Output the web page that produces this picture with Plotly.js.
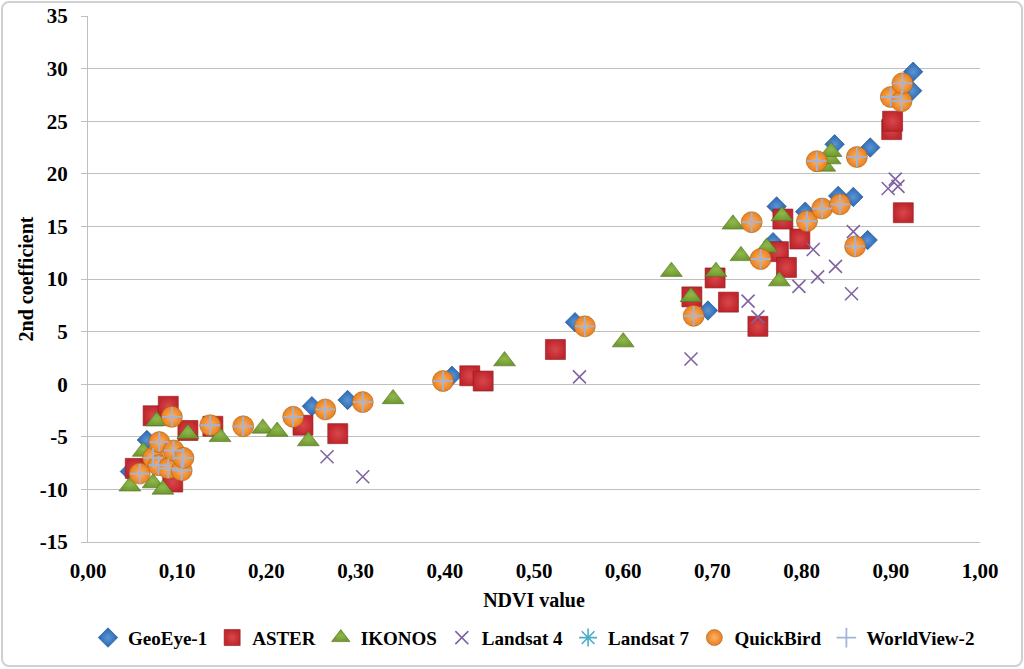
<!DOCTYPE html>
<html>
<head>
<meta charset="utf-8">
<script src="https://cdn.plot.ly/plotly-3.0.1.min.js"></script>
<style>
  body { margin: 0; background: #fff; }
  #container { width: 1024px; height: 669px; }
  #frame {
    position: absolute; left: 1px; top: 1px; width: 1018px; height: 662px;
    border: 2px solid #d0d0d0; border-radius: 8px; pointer-events: none;
  }
</style>
</head>
<body>
<div id="container"></div>
<div id="frame"></div>
<script>
// Values: NDVI value vs 2nd coefficient per sensor
const geoeyeX = [0.047, 0.066, 0.251, 0.291, 0.408, 0.546, 0.695, 0.768, 0.772, 0.804, 0.837, 0.841, 0.858, 0.874, 0.877, 0.924, 0.925];
const geoeyeY = [-8.3, -5.3, -2.1, -1.5, 0.8, 5.9, 7.0, 13.5, 16.9, 16.4, 22.8, 17.9, 17.8, 13.7, 22.5, 27.9, 29.7];

const asterX = [0.053, 0.073, 0.090, 0.095, 0.112, 0.140, 0.241, 0.280, 0.428, 0.443, 0.524, 0.677, 0.703, 0.718, 0.751, 0.774, 0.779, 0.783, 0.798, 0.901, 0.902, 0.914];
const asterY = [-8.0, -3.0, -2.1, -9.3, -4.4, -4.0, -3.9, -4.7, 0.8, 0.3, 3.3, 8.3, 10.1, 7.8, 5.5, 12.6, 15.7, 11.1, 13.8, 24.2, 25.0, 16.3];

const ikonosX = [0.047, 0.062, 0.073, 0.077, 0.084, 0.112, 0.148, 0.196, 0.212, 0.247, 0.342, 0.467, 0.600, 0.654, 0.676, 0.704, 0.723, 0.732, 0.761, 0.775, 0.778, 0.826, 0.832, 0.833];
const ikonosY = [-9.7, -6.4, -9.4, -3.5, -10.0, -4.7, -5.0, -4.2, -4.5, -5.4, -1.4, 2.2, 4.0, 10.7, 8.3, 10.7, 15.2, 12.2, 13.0, 9.8, 16.0, 20.7, 21.4, 22.1];

const landsat4X = [0.268, 0.308, 0.551, 0.676, 0.740, 0.751, 0.797, 0.813, 0.818, 0.838, 0.856, 0.858, 0.897, 0.905, 0.908];
const landsat4Y = [-6.9, -8.8, 0.7, 2.4, 7.9, 6.4, 9.3, 12.8, 10.2, 11.2, 8.6, 14.5, 18.6, 19.5, 18.8];

// Landsat 7, QuickBird and WorldView-2 sit on the same spots in the picture
const quickbirdX = [0.058, 0.073, 0.079, 0.080, 0.090, 0.094, 0.096, 0.105, 0.107, 0.137, 0.174, 0.230, 0.266, 0.308, 0.398, 0.557, 0.679, 0.744, 0.754, 0.806, 0.817, 0.823, 0.843, 0.860, 0.862, 0.900, 0.912, 0.913];
const quickbirdY = [-8.5, -7.0, -7.7, -5.5, -8.0, -3.1, -6.3, -8.2, -7.0, -3.9, -4.0, -3.1, -2.4, -1.7, 0.3, 5.5, 6.5, 15.4, 11.9, 15.5, 21.2, 16.7, 17.1, 13.1, 21.6, 27.3, 26.9, 28.6];
const landsat7X = quickbirdX.slice();
const landsat7Y = quickbirdY.slice();
const worldviewX = quickbirdX.slice();
const worldviewY = quickbirdY.slice();

const yTicks = [-15, -10, -5, 0, 5, 10, 15, 20, 25, 30, 35];
const yTickText = ["-15", "-10", "-5", "0", "5", "10", "15", "20", "25", "30", "35"];

const FONT = "Liberation Serif, Times New Roman, serif";

const series = (name, x, y, marker) => ({
  x: x,
  y: y,
  name: name,
  mode: "markers",
  type: "scatter",
  marker: marker,
  hoverinfo: "x+y+name"
});

const start = () => {
  let data = [
    series("GeoEye-1", geoeyeX, geoeyeY, {
      symbol: "diamond", size: 15, color: "#2a66b0",
      gradient: { type: "radial", color: "#5a95d6" },
      line: { color: "#1f4f8a", width: 0.6 }
    }),
    series("ASTER", asterX, asterY, {
      symbol: "square", size: 20, color: "#c0272d",
      gradient: { type: "radial", color: "#d8474c" },
      line: { color: "#8a1a1e", width: 0.6 }
    }),
    series("IKONOS", ikonosX, ikonosY, {
      symbol: "triangle-up", size: 19, color: "#6f9a2f",
      gradient: { type: "radial", color: "#8fb84c" },
      line: { color: "#4f6f20", width: 0.6 }
    }),
    series("Landsat 4", landsat4X, landsat4Y, {
      symbol: "x-thin-open", size: 13, color: "#8064a2",
      line: { color: "#8064a2", width: 1.6 }
    }),
    series("Landsat 7", landsat7X, landsat7Y, {
      symbol: "asterisk-open", size: 15, color: "#4bacc6",
      line: { color: "#4bacc6", width: 1.6 }
    }),
    series("QuickBird", quickbirdX, quickbirdY, {
      symbol: "circle", size: 21, color: "#e8801e",
      gradient: { type: "radial", color: "#fbb36a" },
      line: { color: "#b0600f", width: 0.6 }
    }),
    series("WorldView-2", worldviewX, worldviewY, {
      symbol: "cross-thin-open", size: 14, color: "#a3b3da",
      line: { color: "#a3b3da", width: 1.8 }
    })
  ];

  let layout = {
    width: 1024,
    height: 669,
    margin: { l: 88, r: 44, t: 16, b: 125 },
    paper_bgcolor: "rgba(0,0,0,0)",
    plot_bgcolor: "#fff",
    separators: ",.",
    font: { family: FONT, size: 21, color: "#000", weight: "bold" },
    showlegend: true,
    legend: {
      orientation: "h",
      x: 0.5, xanchor: "center",
      y: -0.182, yanchor: "middle",
      font: { family: FONT, size: 19, color: "#000", weight: "bold" },
      itemwidth: 30,
      tracegroupgap: 0
    },
    xaxis: {
      range: [0, 1],
      dtick: 0.1,
      tick0: 0,
      tickformat: ".2f",
      showgrid: false,
      zeroline: false,
      showline: true,
      linecolor: "#bfbfbf",
      ticks: "outside",
      ticklen: 10,
      tickcolor: "rgba(0,0,0,0)",
      tickfont: { family: FONT, size: 21, weight: "bold" },
      title: { text: "NDVI value", font: { family: FONT, size: 20, weight: "bold" }, standoff: 10 }
    },
    yaxis: {
      range: [-15, 35],
      tickvals: yTicks,
      ticktext: yTickText,
      showgrid: true,
      gridcolor: "#bfbfbf",
      gridwidth: 1,
      zeroline: false,
      showline: true,
      linecolor: "#bfbfbf",
      ticks: "outside",
      ticklen: 6,
      tickcolor: "#bfbfbf",
      ticklabelstandoff: 9,
      tickfont: { family: FONT, size: 21, weight: "bold" },
      title: { text: "2nd coefficient", font: { family: FONT, size: 20, weight: "bold" }, standoff: 0 }
    }
  };

  Plotly.newPlot("container", data, layout, { displayModeBar: false, staticPlot: true });
};

start();
</script>
</body>
</html>
